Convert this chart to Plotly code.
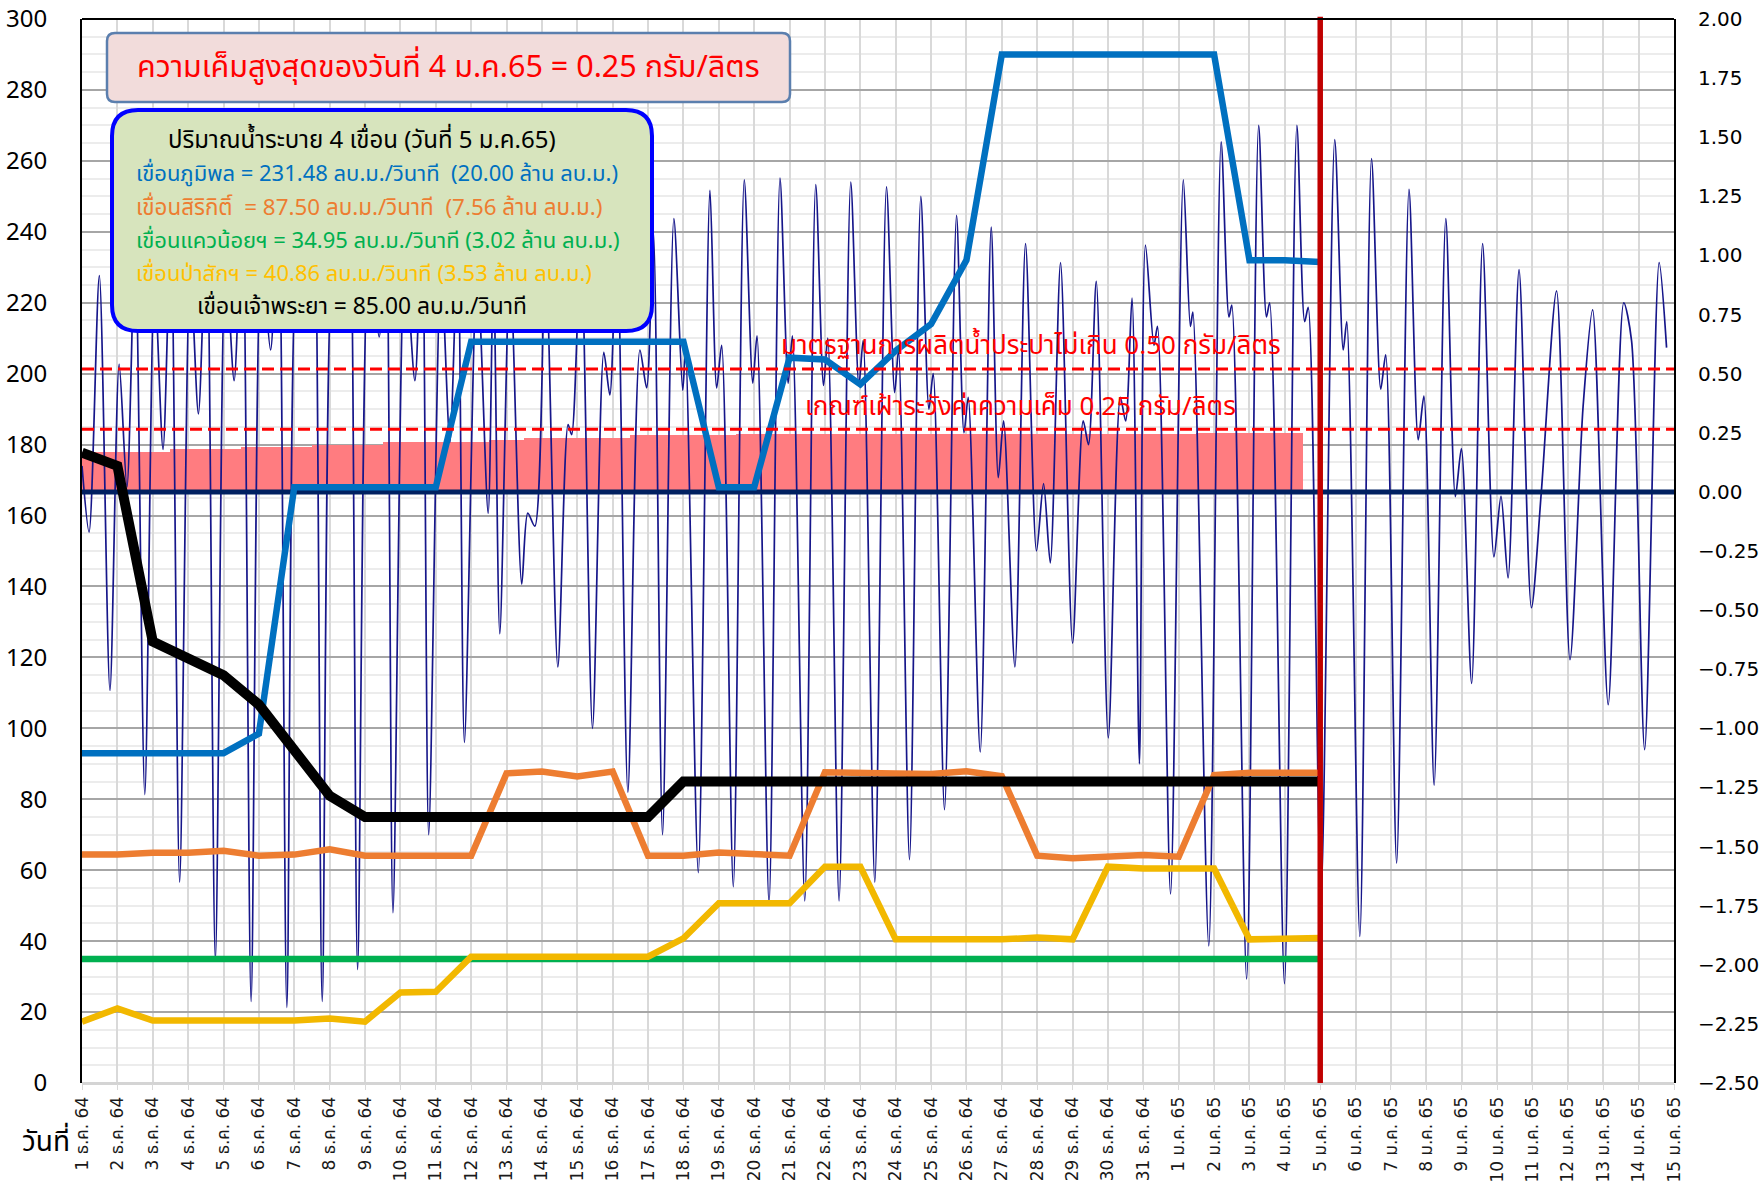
import plotly.graph_objects as go

# ---------------- data ----------------
day_labels = [
    "1 ธ.ค. 64", "2 ธ.ค. 64", "3 ธ.ค. 64", "4 ธ.ค. 64", "5 ธ.ค. 64", "6 ธ.ค. 64", "7 ธ.ค. 64",
    "8 ธ.ค. 64", "9 ธ.ค. 64", "10 ธ.ค. 64", "11 ธ.ค. 64", "12 ธ.ค. 64", "13 ธ.ค. 64", "14 ธ.ค. 64",
    "15 ธ.ค. 64", "16 ธ.ค. 64", "17 ธ.ค. 64", "18 ธ.ค. 64", "19 ธ.ค. 64", "20 ธ.ค. 64", "21 ธ.ค. 64",
    "22 ธ.ค. 64", "23 ธ.ค. 64", "24 ธ.ค. 64", "25 ธ.ค. 64", "26 ธ.ค. 64", "27 ธ.ค. 64", "28 ธ.ค. 64",
    "29 ธ.ค. 64", "30 ธ.ค. 64", "31 ธ.ค. 64", "1 ม.ค. 65", "2 ม.ค. 65", "3 ม.ค. 65", "4 ม.ค. 65",
    "5 ม.ค. 65", "6 ม.ค. 65", "7 ม.ค. 65", "8 ม.ค. 65", "9 ม.ค. 65", "10 ม.ค. 65", "11 ม.ค. 65",
    "12 ม.ค. 65", "13 ม.ค. 65", "14 ม.ค. 65", "15 ม.ค. 65",
]

# dam releases (m3/s), daily, 1 Dec 64 .. 5 Jan 65
bhumibol = [93, 93, 93, 93, 93, 98.5, 168, 168, 168, 168, 168, 209, 209, 209, 209, 209, 209, 209,
            168, 168, 204.5, 204, 197, 206.5, 214, 232, 290, 290, 290, 290, 290, 290, 290, 232, 232, 231.48]
sirikit = [64.4, 64.4, 64.9, 64.9, 65.5, 64.1, 64.4, 65.9, 64.1, 64.1, 63.8, 64.1, 87.3, 87.8, 86.4, 87.8,
           64.1, 64.1, 65.0, 64.4, 64.1, 87.6, 87.6, 87.3, 87.1, 87.9, 86.5, 64.1, 63.4, 63.8, 64.3, 63.8,
           86.8, 87.5, 87.6, 87.5]
khwae_noi = [34.95] * 36
pasak = [17.3, 21.0, 17.6, 17.6, 17.6, 17.6, 17.6, 18.2, 17.3, 25.5, 25.7, 35.6, 35.6, 36.0, 35.6, 35.8,
         35.6, 40.8, 50.7, 50.7, 50.7, 61.0, 61.0, 40.5, 40.5, 40.5, 40.5, 41.0, 40.5, 61.0, 60.5, 60.5,
         60.5, 40.5, 40.5, 40.86]
chao_phraya = [177.7, 174.0, 124.5, 119.5, 115.0, 106.7, 93.9, 81.0, 75, 75, 75, 75, 75, 75, 75, 75, 75,
               85, 85, 85, 85, 85, 85, 85, 85, 85, 85, 85, 85, 85, 85, 85, 85, 85, 85, 85]

# daily maximum salinity (g/l), 1 Dec 64 .. 4 Jan 65
salinity = [0.17, 0.17, 0.17, 0.18, 0.18, 0.19, 0.19, 0.20, 0.20, 0.21, 0.21, 0.21, 0.22, 0.23, 0.23,
            0.23, 0.24, 0.24, 0.24, 0.245, 0.245, 0.245, 0.245, 0.245, 0.245, 0.245, 0.245, 0.245,
            0.245, 0.245, 0.245, 0.245, 0.25, 0.25, 0.25]

# water level (m), turning points (time in days from 1 Dec 64)
tide_t = [0.00, 0.20, 0.49, 0.79, 1.05, 1.27, 1.50, 1.775, 2.05, 2.29, 2.51, 2.76, 3.06, 3.29, 3.52, 3.77,
          4.06, 4.30, 4.53, 4.78, 5.07, 5.33, 5.55, 5.79, 6.08, 6.35, 6.56, 6.79, 7.10, 7.38, 7.57, 7.79,
          8.11, 8.40, 8.59, 8.79, 9.13, 9.41, 9.61, 9.80, 10.15, 10.40, 10.62, 10.81, 11.17, 11.48, 11.63,
          11.81, 12.10, 12.43, 12.60, 12.80, 13.10, 13.45, 13.74, 13.84, 14.10, 14.43, 14.75, 14.92, 15.12,
          15.43, 15.77, 15.96, 16.15, 16.41, 16.73, 16.98, 17.06, 17.42, 17.75, 17.94, 18.08, 18.41, 18.72,
          18.96, 19.08, 19.42, 19.73, 19.96, 20.08, 20.43, 20.74, 20.96, 21.08, 21.40, 21.73, 21.96, 22.08,
          22.41, 22.74, 22.97, 23.08, 23.39, 23.71, 23.94, 24.06, 24.38, 24.72, 24.93, 25.05, 25.39, 25.70,
          25.90, 26.05, 26.37, 26.67, 26.98, 27.18, 27.37, 27.66, 28.00, 28.30, 28.45, 28.67, 29.01, 29.35,
          29.50, 29.68, 29.89, 30.06, 30.30, 30.40, 30.77, 31.13, 31.33, 31.40, 31.85, 32.20, 32.42, 32.50,
          32.92, 33.26, 33.48, 33.57, 33.99, 34.34, 34.56, 34.66, 35.02, 35.41, 35.65, 35.75, 36.12, 36.45,
          36.71, 36.85, 37.16, 37.51, 37.77, 37.93, 38.22, 38.55, 38.82, 38.99, 39.28, 39.59, 39.91, 40.11,
          40.31, 40.62, 40.97, 41.25, 41.68, 42.06, 42.43, 42.70, 43.14, 43.58, 43.80, 44.17, 44.58, 44.79]
tide_v = [0.11, -0.17, 0.915, -0.84, 0.54, 0.02, 1.05, -1.28, 0.90, 0.18, 1.10, -1.65, 0.95, 0.33, 1.15, -1.98,
          1.00, 0.47, 1.20, -2.155, 1.00, 0.60, 1.22, -2.18, 1.00, 0.74, 1.22, -2.155, 1.00, 0.76, 1.22, -2.02,
          1.00, 0.655, 1.20, -1.78, 1.00, 0.47, 1.15, -1.45, 0.95, 0.21, 1.05, -1.06, 0.95, -0.09, 0.95,
          -0.60, 0.95, -0.39, -0.09, -0.145, 1.00, -0.74, 0.285, 0.242, 1.05, -1.00, 0.59, 0.41, 1.10,
          -1.27, 0.60, 0.44, 1.10, -1.45, 1.156, 0.43, 0.60, -1.61, 1.275, 0.44, 0.62, -1.67, 1.32,
          0.46, 0.66, -1.74, 1.327, 0.46, 0.66, -1.73, 1.30, 0.45, 0.65, -1.73, 1.31, 0.45, 0.64,
          -1.65, 1.29, 0.42, 0.60, -1.555, 1.25, 0.35, 0.50, -1.344, 1.17, 0.25, 0.40, -1.10, 1.12,
          0.06, 0.30, -0.74, 1.05, -0.25, 0.035, -0.30, 0.97, -0.64, 0.30, 0.20, 0.89, -1.04, 0.40,
          0.30, 0.82, -1.15, 1.044, 0.62, 0.70, -1.70, 1.32, 0.70, 0.76, -1.92, 1.48, 0.74, 0.79,
          -2.06, 1.55, 0.74, 0.80, -2.08, 1.55, 0.72, 0.78, -1.72, 1.49, 0.60, 0.72, -1.88, 1.41,
          0.435, 0.58, -1.57, 1.28, 0.22, 0.405, -1.24, 1.156, -0.02, 0.183, -0.81, 1.05, -0.275, -0.018,
          -0.364, 0.94, -0.49, 0.00, 0.85, -0.71, 0.36, 0.77, -0.90, 0.80, 0.64, -1.09, 0.97, 0.61]

standard_limit = 0.52      # drawn level of the 0.50 g/l line
watch_limit = 0.265        # drawn level of the 0.25 g/l line
today_label = "5 ม.ค. 65"

# ---------------- geometry ----------------
W, H = 1762, 1190
ML, MR, MT, MB = 82, 88, 19, 107
PW, PH = W - ML - MR, H - MT - MB

def px(x):
    return (x - ML) / PW

def py(y):
    return (H - MB - y) / PH

def rrect(x0, y0, x1, y1, r):
    rx, ry = r / PW, r / PH
    X0, X1, Y0, Y1 = px(x0), px(x1), py(y0), py(y1)
    return (f"M {X0+rx},{Y0} L {X1-rx},{Y0} Q {X1},{Y0} {X1},{Y0-ry} "
            f"L {X1},{Y1+ry} Q {X1},{Y1} {X1-rx},{Y1} L {X0+rx},{Y1} "
            f"Q {X0},{Y1} {X0},{Y1+ry} L {X0},{Y0-ry} Q {X0},{Y0} {X0+rx},{Y0} Z")

xi = list(range(len(day_labels)))

fig = go.Figure()

# right axis (primary y): water level & salinity
fig.add_trace(go.Bar(x=xi[:len(salinity)], y=salinity, width=1.0, marker=dict(color="#FF7C80", line=dict(width=0)),
                     yaxis="y", showlegend=False))
fig.add_trace(go.Scatter(x=tide_t, y=tide_v, mode="lines", line=dict(color="#16168a", width=1.7, shape="spline", smoothing=0.8),
                         yaxis="y", showlegend=False))
fig.add_trace(go.Scatter(x=[0, xi[-1]], y=[0, 0], mode="lines", line=dict(color="#002060", width=5),
                         yaxis="y", showlegend=False))

# left axis (y2): dam releases
for vals, col, w in [(khwae_noi, "#00B050", 6.5), (pasak, "#F2B800", 6.5), (sirikit, "#ED7D31", 6.5),
                     (bhumibol, "#0070C0", 6.5), (chao_phraya, "#000000", 10)]:
    fig.add_trace(go.Scatter(x=xi[:len(vals)], y=vals, mode="lines", line=dict(color=col, width=w),
                             yaxis="y2", showlegend=False))

shapes = [
    dict(type="line", xref="paper", yref="y", x0=0, x1=1, y0=standard_limit, y1=standard_limit,
         line=dict(color="#FF0000", width=3, dash="12px,6px"), layer="above"),
    dict(type="line", xref="paper", yref="y", x0=0, x1=1, y0=watch_limit, y1=watch_limit,
         line=dict(color="#FF0000", width=3, dash="12px,6px"), layer="above"),
    dict(type="line", xref="x", yref="paper", x0=day_labels.index(today_label), x1=day_labels.index(today_label),
         y0=0, y1=1.002, line=dict(color="#C00000", width=5.5), layer="above"),
    dict(type="line", xref="paper", yref="paper", x0=0, x1=1, y0=1, y1=1,
         line=dict(color="#000000", width=2), layer="above"),
    dict(type="path", xref="paper", yref="paper", path=rrect(107, 33, 790, 102, 8),
         fillcolor="#F2DCDB", line=dict(color="#5B7FAE", width=2.5), layer="above"),
    dict(type="path", xref="paper", yref="paper", path=rrect(112, 110, 652, 331, 26),
         fillcolor="#D7E4BD", line=dict(color="#0000FF", width=4), layer="above"),
]

TH = "Noto Sans Thai, Noto Sans, DejaVu Sans, sans-serif"
ann = []
def text(x, y, s, color, size, xanchor="left"):
    ann.append(dict(xref="paper", yref="paper", x=px(x), y=py(y), text=s, showarrow=False,
                    xanchor=xanchor, yanchor="middle", font=dict(family=TH, size=size, color=color)))

text(448, 68, "ความเค็มสูงสุดของวันที่ 4 ม.ค.65 = 0.25 กรัม/ลิตร", "#FF0000", 30.5, "center")
text(166, 141, "ปริมาณน้ำระบาย 4 เขื่อน (วันที่ 5 ม.ค.65)", "#000000", 24)
text(134, 175, "เขื่อนภูมิพล = 231.48 ลบ.ม./วินาที  (20.00 ล้าน ลบ.ม.)", "#0070C0", 22)
text(134, 208, "เขื่อนสิริกิติ์  = 87.50 ลบ.ม./วินาที  (7.56 ล้าน ลบ.ม.)", "#ED7D31", 22.4)
text(134, 241, "เขื่อนแควน้อยฯ = 34.95 ลบ.ม./วินาที (3.02 ล้าน ลบ.ม.)", "#00B050", 22)
text(134, 274, "เขื่อนป่าสักฯ = 40.86 ลบ.ม./วินาที (3.53 ล้าน ลบ.ม.)", "#FFC000", 22)
text(195, 307, "เขื่อนเจ้าพระยา = 85.00 ลบ.ม./วินาที", "#000000", 22.8)
text(1031, 346, "มาตรฐานการผลิตน้ำประปาไม่เกิน 0.50 กรัม/ลิตร", "#FF0000", 26, "center")
text(1021, 407, "เกณฑ์เฝ้าระวังค่าความเค็ม 0.25 กรัม/ลิตร", "#FF0000", 26, "center")
text(72, 1142, "วันที่", "#000000", 28, "right")

fig.update_layout(
    width=W, height=H, margin=dict(l=ML, r=MR, t=MT, b=MB, autoexpand=False),
    paper_bgcolor="white", plot_bgcolor="white", bargap=0,
    shapes=shapes, annotations=ann,
    xaxis=dict(range=[0, len(day_labels) - 1], tickmode="array", tickvals=xi, ticktext=day_labels,
               tickangle=-90, tickfont=dict(family="DejaVu Sans, " + TH, size=17, color="#1a1a1a"),
               showgrid=True, gridcolor="#d9d9d9", gridwidth=1.5, ticks="outside", ticklen=6,
               tickcolor="#d9d9d9", showline=False, zeroline=False, fixedrange=True, automargin=False),
    yaxis=dict(side="right", range=[-2.5, 2.0], tickmode="array",
               tickvals=[-2.5, -2.25, -2.0, -1.75, -1.5, -1.25, -1.0, -0.75, -0.5, -0.25, 0, 0.25, 0.5, 0.75,
                         1.0, 1.25, 1.5, 1.75, 2.0],
               tickformat=".2f", showgrid=False, zeroline=False, showline=True, linecolor="#000000",
               linewidth=2, tickfont=dict(family="DejaVu Sans", size=20, color="#000000"),
               ticks="", ticklabelstandoff=18, automargin=False),
    yaxis2=dict(side="left", overlaying="y", range=[0, 300], dtick=20, showgrid=True,
                gridcolor="#a6a6a6", gridwidth=2,
                minor=dict(dtick=5, showgrid=True, gridcolor="#ececec", gridwidth=2),
                zeroline=True, zerolinecolor="#d4d4d4", zerolinewidth=3,
                showline=True, linecolor="#000000", linewidth=2,
                tickfont=dict(family="Noto Sans", size=24, color="#000000"), ticks="", ticklabelstandoff=28,
                automargin=False),
)

fig.write_html("out.html", config={"displayModeBar": False},
               post_script="document.body.style.margin='0px';document.body.style.padding='0px';"
                           "document.body.style.overflow='hidden';")
